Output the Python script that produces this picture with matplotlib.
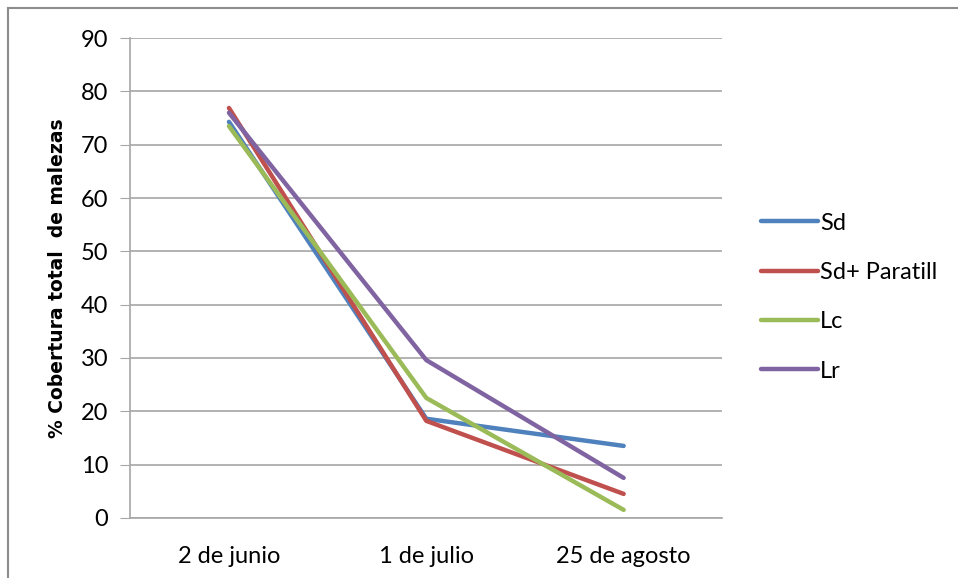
import matplotlib.pyplot as plt
from matplotlib.lines import Line2D
import numpy as np

plt.rcParams['font.family'] = ['Lato', 'DejaVu Sans']

fechas = ['2 de junio', '1 de julio', '25 de agosto']
sd = [74.3, 18.6, 13.5]
sd_paratill = [76.9, 18.2, 4.5]
lc = [73.5, 22.5, 1.5]
lr = [76.0, 29.6, 7.5]

series = [('Sd', sd, '#4F81BD'),
          ('Sd+ Paratill', sd_paratill, '#C0504D'),
          ('Lc', lc, '#9BBB59'),
          ('Lr', lr, '#8064A2')]

fig = plt.figure(figsize=(9.58, 5.78), dpi=100)
ax = fig.add_axes([0.136, 0.104, 0.618, 0.830])

x = np.arange(len(fechas))
for name, vals, col in series:
    ax.plot(x, vals, color=col, lw=3.2, label=name, solid_capstyle='round')

ax.set_xlim(-0.5, 2.5)
ax.set_ylim(0, 90)
ax.set_yticks(range(0, 91, 10))
ax.set_xticks(x)
ax.set_xticklabels(fechas)
ax.grid(axis='y', color='#A6A6A6', lw=1.2)
ax.set_axisbelow(True)
for s in ['top', 'right']:
    ax.spines[s].set_visible(False)
ax.spines['left'].set_color('#A6A6A6')
ax.spines['bottom'].set_color('#A6A6A6')
ax.spines['left'].set_linewidth(1.2)
ax.spines['bottom'].set_linewidth(1.2)
ax.tick_params(axis='y', length=7, color='#A6A6A6', labelsize=17, pad=9)
ax.tick_params(axis='x', length=0, labelsize=17, pad=20)
ax.set_ylabel('% Cobertura total  de malezas', fontsize=13.5, fontweight='bold',
              family=['DejaVu Sans'], labelpad=10)

leg = ax.legend(loc='center left', bbox_to_anchor=(1.03, 0.46), frameon=False,
                fontsize=17, handlelength=2.4, handletextpad=0.1, labelspacing=1.2)

# chart area border (top and left visible)
fig.add_artist(Line2D([0.008, 1.0], [0.986, 0.986], color='#8C8C8C', lw=1.5))
fig.add_artist(Line2D([0.008, 0.008], [0.0, 0.986], color='#8C8C8C', lw=1.5))

fig.savefig('out.png', dpi=100)
